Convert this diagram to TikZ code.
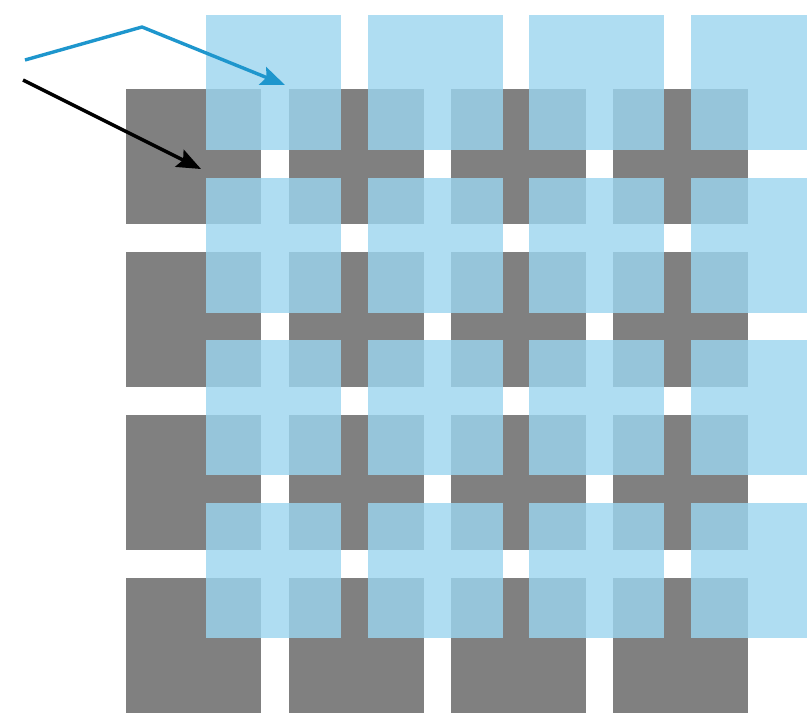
\documentclass[tikz,border=0pt]{standalone}
\usetikzlibrary{arrows.meta}
\definecolor{grayc}{RGB}{128,128,128}
\definecolor{bluec}{RGB}{156,213,239}
\definecolor{arrowblue}{RGB}{30,150,205}
\tikzset{
  graysq/.style={fill=grayc, draw=none},
  bluesq/.style={fill=bluec, fill opacity=0.81, draw=none},
  pointer/.style={line width=3.4pt, line join=round, -{Stealth[length=24pt,width=19pt,inset=4pt]}},
}
\begin{document}
\begin{tikzpicture}[x=1pt,y=-1pt]
\useasboundingbox (0,0) rectangle (807,718);
% gray squares
\foreach \i/\x in {0/126,1/289,2/451,3/613}{
  \foreach \j/\y in {0/89,1/252,2/415,3/578}{
    \fill[graysq] (\x,\y) coordinate (g\i\j) rectangle ++(135,135);
  }
}
% blue squares
\begin{scope}
\clip (0,0) rectangle (807,718);
\foreach \i/\x in {0/206,1/368,2/529,3/691}{
  \foreach \j/\y in {0/15,1/178,2/340,3/503}{
    \fill[bluesq] (\x,\y) coordinate (b\i\j) rectangle ++(135,135);
  }
}
\end{scope}
% arrows
\coordinate (bs) at (25,60);
\coordinate (bk) at (142,27);
\coordinate (bt) at (285,85);
\coordinate (ks) at (23,80);
\coordinate (kt) at (201,169);
\draw[pointer, draw=arrowblue] (bs) -- (bk) -- (bt);
\draw[pointer, draw=black] (ks) -- (kt);
\end{tikzpicture}
\end{document}
